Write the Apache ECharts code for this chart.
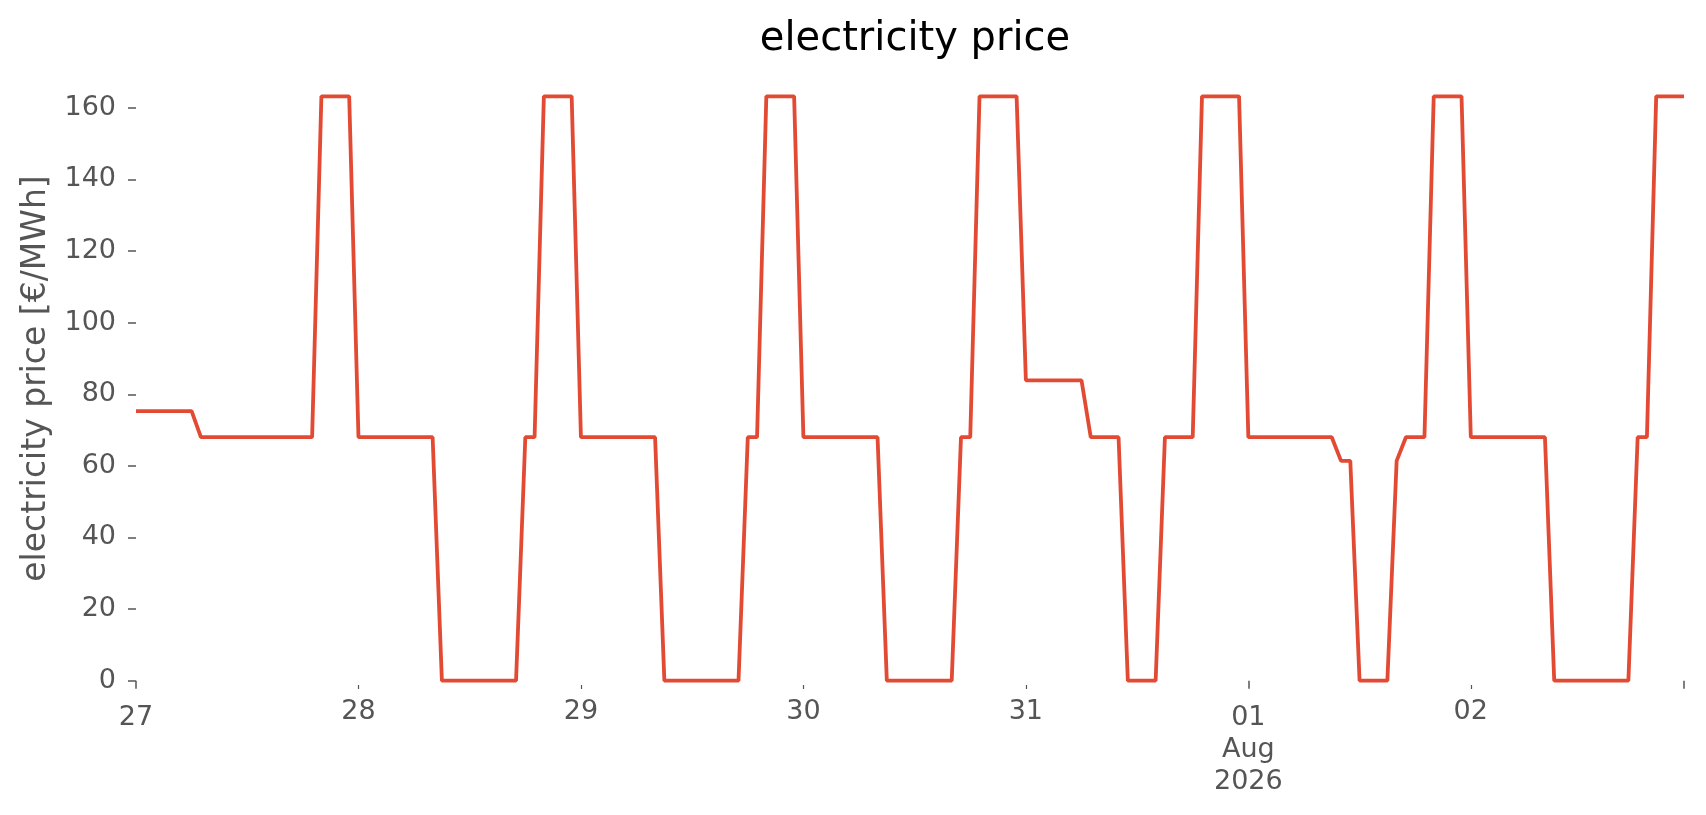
<!DOCTYPE html>
<html>
<head>
<meta charset="utf-8">
<title>electricity price</title>
<script src="https://cdn.jsdelivr.net/npm/echarts@6/dist/echarts.min.js"></script>
<style>
	html, body { margin: 0; padding: 0; background: #fff; }
	#main { width: 1706px; height: 815px; }
</style>
</head>
<body>
<div id="main"></div>
<script>
// hourly prices [€/MWh], one array per day, starting 27 Jul 2026 00:00
var jul27 = [75.3, 75.3, 75.3, 75.3, 75.3, 75.3, 75.3, 68, 68, 68, 68, 68, 68, 68, 68, 68, 68, 68, 68, 68, 163.2, 163.2, 163.2, 163.2];
var jul28 = [68, 68, 68, 68, 68, 68, 68, 68, 68, 0, 0, 0, 0, 0, 0, 0, 0, 0, 68, 68, 163.2, 163.2, 163.2, 163.2];
var jul29 = [68, 68, 68, 68, 68, 68, 68, 68, 68, 0, 0, 0, 0, 0, 0, 0, 0, 0, 68, 68, 163.2, 163.2, 163.2, 163.2];
var jul30 = [68, 68, 68, 68, 68, 68, 68, 68, 68, 0, 0, 0, 0, 0, 0, 0, 0, 68, 68, 163.2, 163.2, 163.2, 163.2, 163.2];
var jul31 = [83.9, 83.9, 83.9, 83.9, 83.9, 83.9, 83.9, 68, 68, 68, 68, 0, 0, 0, 0, 68, 68, 68, 68, 163.2, 163.2, 163.2, 163.2, 163.2];
var aug01 = [68, 68, 68, 68, 68, 68, 68, 68, 68, 68, 61.4, 61.4, 0, 0, 0, 0, 61.4, 68, 68, 68, 163.2, 163.2, 163.2, 163.2];
var aug02 = [68, 68, 68, 68, 68, 68, 68, 68, 68, 0, 0, 0, 0, 0, 0, 0, 0, 0, 68, 68, 163.2, 163.2, 163.2, 163.2];

var days = [jul27, jul28, jul29, jul30, jul31, aug01, aug02];
var startTime = new Date(2026, 6, 27, 0, 0, 0).getTime();
var hour = 3600 * 1000;

var yTicks = [0, 20, 40, 60, 80, 100, 120, 140, 160];

// x ticks (timestamps): major ones carry the long tick, minor ones the short tick
var majorTicks = [new Date(2026, 6, 27).getTime(), new Date(2026, 7, 1).getTime(), new Date(2026, 7, 2, 23).getTime()];
var majorLabels = ['27', '01\nAug\n2026', ''];
var minorTicks = [new Date(2026, 6, 28).getTime(), new Date(2026, 6, 29).getTime(), new Date(2026, 6, 30).getTime(),
	new Date(2026, 6, 31).getTime(), new Date(2026, 7, 2).getTime()];
var minorLabels = ['28', '29', '30', '31', '02'];

var seriesData = [];
days.forEach(function(d, di) {
	d.forEach(function(v, h) {
		seriesData.push([startTime + (di * 24 + h) * hour, v]);
	});
});

var xMin = seriesData[0][0];
var xMax = seriesData[seriesData.length - 1][0];

function labelFor(ticks, labels) {
	return function(value) {
		for (var i = 0; i < ticks.length; i++) {
			if (Math.abs(ticks[i] - value) < 1000) return labels[i];
		}
		return '';
	};
}

var myChart = echarts.init(document.getElementById('main'));
var font = 'DejaVu Sans';
var option = {
	backgroundColor: '#fff',
	animation: false,
	textStyle: { fontFamily: font },
	title: {
		text: 'electricity price',
		left: 910,
		textAlign: 'center',
		top: 15,
		textStyle: { fontFamily: font, fontSize: 40, fontWeight: 'normal', color: '#000' }
	},
	grid: { left: 136, right: 22, top: 72, bottom: 130 },
	xAxis: [{
		type: 'value',
		position: 'bottom',
		min: xMin,
		max: xMax,
		axisLine: { show: false },
		splitLine: { show: false },
		axisTick: { show: true, length: 8, customValues: majorTicks, lineStyle: { color: '#555', width: 1.5 } },
		axisLabel: {
			customValues: majorTicks,
			formatter: labelFor(majorTicks, majorLabels),
			fontFamily: font, fontSize: 27, color: '#555', margin: 17, lineHeight: 32
		}
	}, {
		type: 'value',
		position: 'bottom',
		offset: 0,
		min: xMin,
		max: xMax,
		axisLine: { show: false },
		splitLine: { show: false },
		axisTick: { show: true, length: 4, customValues: minorTicks, lineStyle: { color: '#555', width: 1.2 } },
		axisLabel: {
			customValues: minorTicks,
			formatter: labelFor(minorTicks, minorLabels),
			fontFamily: font, fontSize: 27, color: '#555', margin: 13
		}
	}],
	yAxis: {
		type: 'value',
		min: -1.2,
		max: 170,
		name: 'electricity price [€/MWh]',
		nameLocation: 'middle',
		nameGap: 83,
		nameTextStyle: { fontFamily: font, fontSize: 33, color: '#555' },
		axisLine: { show: false },
		splitLine: { show: false },
		axisTick: { show: true, length: 8, customValues: yTicks, lineStyle: { color: '#555', width: 1.5 } },
		axisLabel: { customValues: yTicks, fontFamily: font, fontSize: 27, color: '#555', margin: 20 }
	},
	series: [{
		name: 'electricity price',
		type: 'line',
		xAxisIndex: 0,
		data: seriesData,
		showSymbol: false,
		lineStyle: { color: '#E24A33', width: 3.8 },
		itemStyle: { color: '#E24A33' }
	}]
};
myChart.setOption(option);
</script>
</body>
</html>
